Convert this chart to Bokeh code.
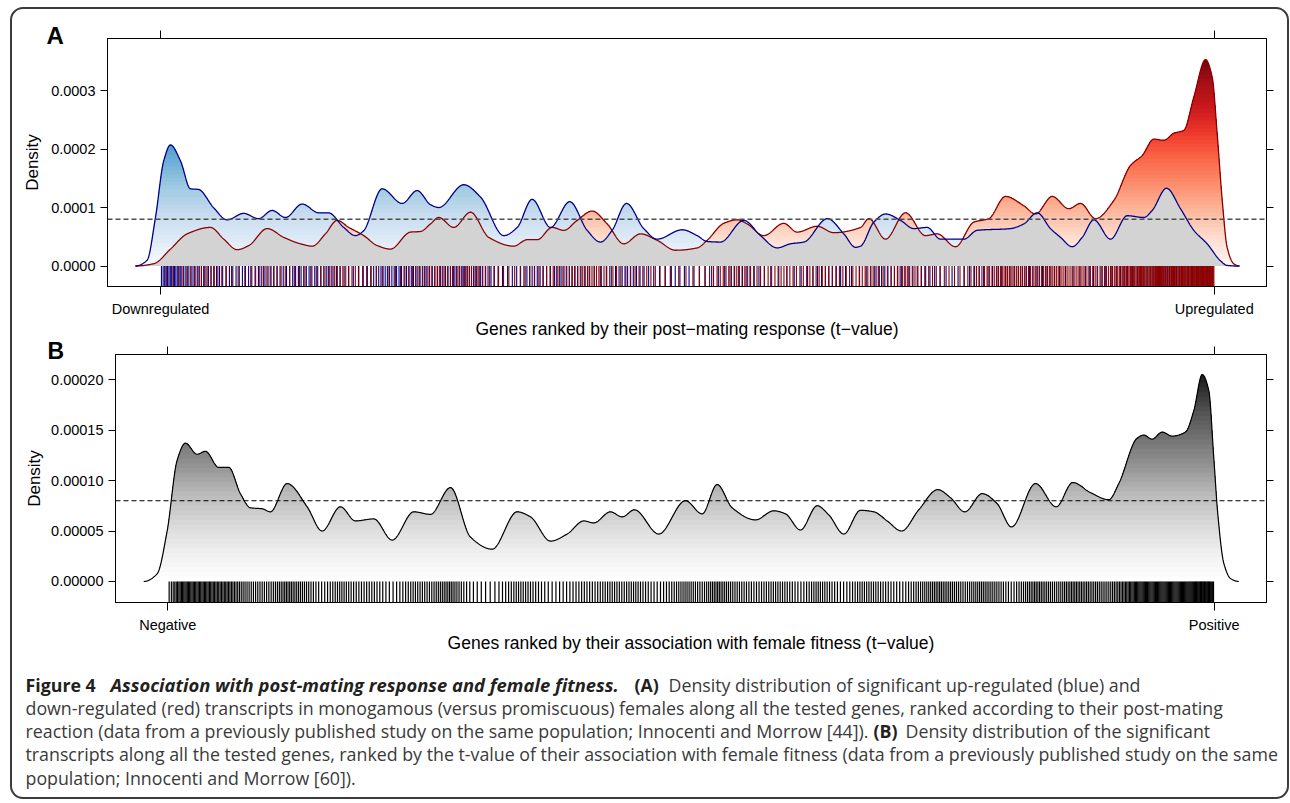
import numpy as np
from jinja2 import Template
from bokeh.plotting import figure
from bokeh.models import (Range1d, LinearAxis, FixedTicker, PrintfTickFormatter,
                          CustomJSTickFormatter, Span, Label)
from bokeh.core.properties import value
from bokeh.embed import file_html
from bokeh.resources import INLINE

# ---------------- data ----------------
N_GENES = 12500                 # genes ranked 1..N
EXPECTED = 1.0 / N_GENES        # dashed reference line (0.00008)

# Panel A: up-regulated (blue) density, density in units of 1e-4
up_rank = [-297, -158, -59, 39, 119, 237, 356, 451, 629, 791,
           988, 1163, 1325, 1483, 1681, 1878, 1993, 2174, 2313, 2408,
           2630, 2867, 3045, 3203, 3301, 3598, 3796, 4073, 4232, 4409,
           4627, 4855, 5062, 5220, 5358, 5528, 5733, 5892, 6189, 6367,
           6485, 6643, 6920, 7118, 7316, 7474, 7632, 7912, 8106, 8245,
           8304, 8462, 8601, 8779, 8936, 9095, 9253, 9530, 9688, 10084,
           10241, 10400, 10558, 10677, 10815, 10934, 11072, 11270, 11468, 11665,
           11764, 11934, 12100, 12258, 12416, 12574, 12653, 12772]
up_density_e4 = [0, 0.1, 0.83, 1.8, 2.07, 1.8, 1.32, 1.31, 1.0, 0.79,
                 0.9, 0.81, 0.95, 0.83, 1.06, 0.91, 0.91, 0.66, 0.52, 0.6,
                 1.32, 1.07, 1.29, 1.05, 1.0, 1.39, 1.18, 0.52, 0.66, 1.14,
                 0.66, 1.1, 0.61, 0.41, 0.61, 1.07, 0.64, 0.46, 0.62, 0.52,
                 0.42, 0.41, 0.78, 0.52, 0.31, 0.38, 0.41, 0.81, 0.55, 0.32,
                 0.34, 0.75, 0.89, 0.78, 0.64, 0.66, 0.46, 0.46, 0.61, 0.64,
                 0.72, 0.91, 0.64, 0.49, 0.33, 0.49, 0.79, 0.46, 0.86, 0.83,
                 0.95, 1.33, 0.98, 0.61, 0.38, 0.09, 0.01, 0]

# Panel A: down-regulated (red) density
down_rank = [-297, -79, 119, 317, 593, 751, 910, 1048, 1266, 1463,
             1661, 1800, 1957, 2096, 2234, 2412, 2571, 2728, 2966, 3084,
             3203, 3301, 3479, 3678, 3895, 4191, 4350, 4469, 4647, 4784,
             4943, 5121, 5299, 5496, 5694, 5892, 6109, 6367, 6485, 6682,
             6841, 6960, 7157, 7394, 7553, 7790, 7987, 8304, 8403, 8601,
             8838, 9075, 9214, 9431, 9648, 9826, 10024, 10241, 10380, 10578,
             10775, 10914, 11092, 11309, 11507, 11646, 11783, 11902, 12021, 12139,
             12258, 12397, 12476, 12535, 12595, 12653, 12731, 12800]
down_density_e4 = [0, 0.04, 0.29, 0.55, 0.66, 0.46, 0.28, 0.35, 0.64, 0.49,
                   0.38, 0.34, 0.55, 0.78, 0.66, 0.52, 0.35, 0.29, 0.58, 0.59,
                   0.72, 0.83, 0.66, 0.92, 0.49, 0.34, 0.45, 0.45, 0.66, 0.61,
                   0.78, 0.94, 0.72, 0.38, 0.55, 0.44, 0.27, 0.31, 0.44, 0.73,
                   0.79, 0.72, 0.52, 0.73, 0.58, 0.68, 0.57, 0.66, 0.81, 0.46,
                   0.91, 0.52, 0.55, 0.33, 0.75, 0.81, 1.19, 1.03, 0.89, 1.19,
                   0.98, 1.07, 0.81, 1.12, 1.72, 1.89, 2.17, 2.15, 2.27, 2.32,
                   2.89, 3.53, 3.23, 2.26, 1.12, 0.32, 0.04, 0]

# Panel B: significant transcripts along fitness ranking
fit_rank = [-287, -127, -7, 112, 211, 351, 450, 609, 729, 868,
            988, 1128, 1227, 1426, 1665, 1844, 2063, 2242, 2461, 2681,
            2939, 3138, 3377, 3616, 3875, 4174, 4333, 4572, 4771, 4970,
            5089, 5288, 5428, 5575, 5865, 6184, 6384, 6563, 6742, 7021,
            7239, 7379, 7558, 7758, 7896, 8076, 8275, 8434, 8594, 8765,
            8971, 9198, 9350, 9521, 9729, 9908, 10079, 10366, 10613, 10811,
            11023, 11241, 11361, 11580, 11659, 11759, 11879, 11998, 12157, 12256,
            12357, 12436, 12495, 12543, 12615, 12695, 12794]
fit_density_e4 = [0, 0.076, 0.5, 1.2, 1.37, 1.26, 1.29, 1.13, 1.13, 0.87,
                  0.73, 0.72, 0.69, 0.97, 0.74, 0.50, 0.74, 0.60, 0.62, 0.41,
                  0.69, 0.665, 0.93, 0.44, 0.32, 0.69, 0.64, 0.40, 0.47, 0.60,
                  0.58, 0.69, 0.64, 0.71, 0.47, 0.80, 0.67, 0.96, 0.73, 0.61,
                  0.70, 0.67, 0.51, 0.75, 0.66, 0.47, 0.705, 0.69, 0.60, 0.50,
                  0.71, 0.91, 0.83, 0.69, 0.87, 0.77, 0.54, 0.97, 0.74, 0.98,
                  0.88, 0.81, 0.97, 1.42, 1.45, 1.41, 1.48, 1.44, 1.48, 1.69,
                  2.05, 1.89, 1.23, 0.67, 0.18, 0.03, 0]

# estimated numbers of rug ticks (significant genes) per series
n_up, n_down, n_fit = 300, 400, 520

a_yticks = [0.0, 0.0001, 0.0002, 0.0003]
b_yticks = [0.0, 0.00005, 0.0001, 0.00015, 0.0002]
a_xlabels = ["Downregulated", "Upregulated"]
b_xlabels = ["Negative", "Positive"]

# ---------------- helpers ----------------
AX_FONT = "Liberation Sans"
BLUES = ["#f7fbff", "#deebf7", "#c6dbef", "#9ecae1", "#6baed6", "#4292c6", "#2171b5", "#08519c", "#08306b"]
REDS = ["#fff5f0", "#fee0d2", "#fcbba1", "#fc9272", "#fb6a4a", "#ef3b2c", "#cb181d", "#a50f15", "#67000d"]
GREYS = ["#ffffff", "#f0f0f0", "#d9d9d9", "#bdbdbd", "#969696", "#737373", "#525252", "#252525", "#000000"]


def ramp(palette, t):
    t = float(np.clip(t, 0, 1))
    pos = t * (len(palette) - 1)
    i = min(int(pos), len(palette) - 2)
    f = pos - i
    a = [int(palette[i][j:j + 2], 16) for j in (1, 3, 5)]
    b = [int(palette[i + 1][j:j + 2], 16) for j in (1, 3, 5)]
    c = [int(round(a[j] + (b[j] - a[j]) * f)) for j in range(3)]
    return "#%02x%02x%02x" % tuple(c)


def smooth_curve(xs, ys, xn):
    """Monotone (PCHIP) drawing of the read points; flat outside them."""
    x = np.asarray(xs, float)
    y = np.asarray(ys, float)
    h = np.diff(x)
    d = np.diff(y) / h
    m = np.zeros_like(y)
    for k in range(1, len(y) - 1):
        if d[k - 1] * d[k] > 0:
            w1 = 2 * h[k] + h[k - 1]
            w2 = h[k] + 2 * h[k - 1]
            m[k] = (w1 + w2) / (w1 / d[k - 1] + w2 / d[k])
    idx = np.clip(np.searchsorted(x, xn) - 1, 0, len(x) - 2)
    t = np.clip((xn - x[idx]) / h[idx], 0, 1)
    h00 = 2 * t ** 3 - 3 * t ** 2 + 1
    h10 = t ** 3 - 2 * t ** 2 + t
    h01 = -2 * t ** 3 + 3 * t ** 2
    h11 = t ** 3 - t ** 2
    out = h00 * y[idx] + h10 * h[idx] * m[idx] + h01 * y[idx + 1] + h11 * h[idx] * m[idx + 1]
    out[(xn < x[0]) | (xn > x[-1])] = 0.0
    return np.maximum(out, 0.0)


def gradient_fill(p, x, lower, upper, palette, cmax, nb):
    edges = np.linspace(0, cmax, nb + 1)
    umax = np.max(upper)
    for k in range(nb - 1, -1, -1):
        if edges[k] >= umax:
            continue
        cap = np.inf if k == nb - 1 else edges[k + 1]
        top = np.maximum(lower, np.minimum(upper, cap))
        if np.max(top - lower) <= 0:
            continue
        p.varea(x=x, y1=lower, y2=top, fill_color=ramp(palette, (k + 0.5) / nb))


def rug_positions(xs, ys, n):
    # ticks placed at the quantiles of the read density within the ranked genes
    grid = np.linspace(1, N_GENES, 5000)
    d = np.interp(grid, xs, ys)
    cdf = np.concatenate([[0.0], np.cumsum((d[1:] + d[:-1]) / 2 * np.diff(grid))])
    cdf /= cdf[-1]
    q = (np.arange(n) + 0.5) / n
    return np.interp(q, cdf, grid)


def add_axes(p, yticks, yfmt, xlabels, xlabel, tick_size, ylab_standoff, xlab_standoff):
    common = dict(axis_line_color="black", axis_line_width=1, major_tick_line_color="black",
                  major_tick_line_width=1, major_tick_in=0, minor_tick_line_color=None,
                  major_label_text_font=AX_FONT, major_label_text_color="black",
                  axis_label_text_font=AX_FONT, axis_label_text_font_style="normal",
                  axis_label_text_color="black")
    blank = CustomJSTickFormatter(code="return ''")
    left = LinearAxis(ticker=FixedTicker(ticks=yticks), formatter=PrintfTickFormatter(format=yfmt),
                      axis_label="Density", major_tick_out=7, major_label_standoff=5,
                      axis_label_standoff=ylab_standoff, major_label_text_font_size=tick_size,
                      axis_label_text_font_size="17px", **common)
    p.add_layout(left, "left")
    right = LinearAxis(ticker=FixedTicker(ticks=yticks), formatter=blank, major_tick_out=7,
                       major_label_standoff=0, major_label_text_font_size="0px", **common)
    p.add_layout(right, "right")
    xt = [1, N_GENES]
    bottom = LinearAxis(ticker=FixedTicker(ticks=xt),
                        major_label_overrides={1: xlabels[0], N_GENES: xlabels[1]},
                        axis_label=xlabel, major_tick_out=8, major_label_standoff=6,
                        axis_label_standoff=xlab_standoff, major_label_text_font_size=tick_size,
                        axis_label_text_font_size="17.5px", **common)
    p.add_layout(bottom, "below")
    top = LinearAxis(ticker=FixedTicker(ticks=xt), formatter=blank, major_tick_out=8,
                     major_label_standoff=0, major_label_text_font_size="0px", **common)
    p.add_layout(top, "above")


def panel_letter(p, letter, x, y, size):
    # the letter sits in an "above" side panel outside the top axis, so it is not clipped
    p.add_layout(Label(x=x, y=y, x_units="screen", y_units="screen", text=letter,
                       text_font=AX_FONT, text_font_size=size, text_font_style="bold",
                       text_baseline="alphabetic", text_align="left", text_color="black"),
                 "above")


def base_fig(fw, fh, left, top, bottom, xr, yr):
    p = figure(frame_width=fw, frame_height=fh, min_border_left=left, min_border_right=21,
               min_border_top=top, min_border_bottom=bottom, x_range=xr, y_range=yr,
               x_axis_type=None, y_axis_type=None, output_backend="svg", toolbar_location=None)
    p.outline_line_color = "black"
    p.outline_line_width = 1
    p.border_fill_color = None
    p.background_fill_color = "white"
    return p


# ---------------- panel A ----------------
up_x = np.array(up_rank, float)
up_y = np.array(up_density_e4) * 1e-4
dn_x = np.array(down_rank, float)
dn_y = np.array(down_density_e4) * 1e-4

xa = np.linspace(min(up_x.min(), dn_x.min()), max(up_x.max(), dn_x.max()), 3200)
ba = smooth_curve(up_x, up_y, xa)
ra = smooth_curve(dn_x, dn_y, xa)
ma = np.minimum(ba, ra)

yrA = Range1d(-0.000035, 0.000389)
pA = base_fig(1159, 248, 95, 29, 56, Range1d(-628, 13120), yrA)
gradient_fill(pA, xa, ma, np.maximum(ba, ma), BLUES, 0.00036, 55)
gradient_fill(pA, xa, ma, np.maximum(ra, ma), REDS, 0.00036, 55)
pA.varea(x=xa, y1=0, y2=ma, fill_color="#d3d3d3")

rug_up = rug_positions(up_x, up_y, n_up)
rug_dn = rug_positions(dn_x, dn_y, n_down)
pA.segment(x0=rug_up, y0=0, x1=rug_up, y1=yrA.start, line_color="#00008b", line_width=1.1)
pA.segment(x0=rug_dn, y0=0, x1=rug_dn, y1=yrA.start, line_color="#8b0000", line_width=1.1)

pA.line(xa, ra, line_color="#8b0000", line_width=1.3)
pA.line(xa, ba, line_color="#00008b", line_width=1.3)
pA.add_layout(Span(location=EXPECTED, dimension="width", line_color="#4d4d4d",
                   line_width=1.3, line_dash="5 3"))
add_axes(pA, a_yticks, "%.4f", a_xlabels,
         "Genes ranked by their post\u2212mating response (t\u2212value)", "14.5px", 6, -1)
panel_letter(pA, "A", -61, -5, "24px")
pA.styles = {"margin-top": "-6px"}

# ---------------- panel B ----------------
fx = np.array(fit_rank, float)
fy = np.array(fit_density_e4) * 1e-4
xb = np.linspace(fx.min(), fx.max(), 3200)
yb = smooth_curve(fx, fy, xb)

yrB = Range1d(-0.0000208, 0.0002248)
pB = base_fig(1151, 248, 103, 12, 58, Range1d(-624, 13125), yrB)
gradient_fill(pB, xb, np.zeros_like(yb), yb, GREYS, 0.000225, 48)
rug_fit = rug_positions(fx, fy, n_fit)
pB.segment(x0=rug_fit, y0=0, x1=rug_fit, y1=yrB.start, line_color="black", line_width=1.2)
pB.line(xb, yb, line_color="black", line_width=1.2)
pB.add_layout(Span(location=EXPECTED, dimension="width", line_color="black",
                   line_width=1.1, line_dash="5 3"))
add_axes(pB, b_yticks, "%.5f", b_xlabels,
         "Genes ranked by their association with female fitness (t\u2212value)", "14.5px", 4, -3)
panel_letter(pB, "B", -68, -4, "23px")
pB.styles = {"margin-top": "-22px"}

# ---------------- caption ----------------
caption = [
    (13, 24, "Figure 4", "bold", "#231f20", "17.8px"),
    (98, 24, "Association with post-mating response and female fitness.", "bold italic", "#231f20", "18.4px"),
    (622, 24, "(A)", "bold", "#231f20", "17.8px"),
    (656, 24, "Density distribution of significant up-regulated (blue) and", "normal", "#3a3a3a", "17.8px"),
    (13, 47, "down-regulated (red) transcripts in monogamous (versus promiscuous) females along all "
             "the tested genes, ranked according to their post-mating", "normal", "#3a3a3a", "17.8px"),
    (13, 70, "reaction (data from a previously published study on the same population; "
             "Innocenti and Morrow [44]).", "normal", "#3a3a3a", "17.8px"),
    (861, 70, "(B)", "bold", "#231f20", "17.8px"),
    (893, 70, "Density distribution of the significant", "normal", "#3a3a3a", "17.8px"),
    (13, 93, "transcripts along all the tested genes, ranked by the t-value of their association "
             "with female fitness (data from a previously published study on the same", "normal", "#3a3a3a", "17.8px"),
    (13, 117, "population; Innocenti and Morrow [60]).", "normal", "#3a3a3a", "17.8px"),
]
pC = figure(width=1275, height=137, x_range=Range1d(0, 1275), y_range=Range1d(137, 0),
            min_border=0, x_axis_type=None, y_axis_type=None, output_backend="svg",
            toolbar_location=None)
pC.outline_line_color = None
pC.border_fill_color = None
pC.background_fill_color = None
for cx, cy, txt, style, col, fs in caption:
    pC.text(x=[cx], y=[cy], text=[txt], text_font=value("Open Sans"), text_font_size=fs,
            text_font_style=style, text_color=col, text_baseline="alphabetic", text_align="left")

# page: the three parts stacked inside the rounded frame of the figure
PAGE = Template("""{% extends base %}
{% block preamble %}
<style>
  :root { height: auto; }
  html body { height: auto; display: block; box-sizing: content-box; width: 1275px;
              margin: 7px 0 0 10px; padding: 0; border: 2px solid #3c3c3c;
              border-radius: 13px; background: #ffffff; }
</style>
{% endblock %}
""")

open("out.html", "w").write(file_html([pA, pB, pC], INLINE, template=PAGE))
